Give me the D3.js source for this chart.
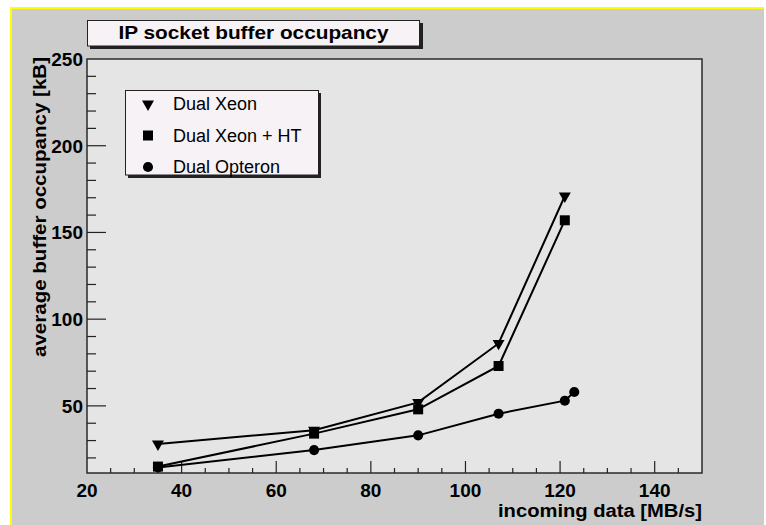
<!DOCTYPE html>
<html>
<head>
<meta charset="utf-8">
<script src="https://cdn.jsdelivr.net/npm/d3@7"></script>
<style>
  html, body { margin: 0; padding: 0; background: #ffffff; }
  svg { display: block; }
  text { font-family: "Liberation Sans", Arial, Helvetica, sans-serif; }
</style>
</head>
<body>
<svg id="chart" width="766" height="525"></svg>
<script>
// ---- data ----
const chartTitle = "IP socket buffer occupancy";
const xTitle = "incoming data [MB/s]";
const yTitle = "average buffer occupancy [kB]";
const seriesNames = ["Dual Xeon", "Dual Xeon + HT", "Dual Opteron"];
const xeonX = [35, 68, 90, 107, 121];
const xeonY = [28, 36, 52, 86, 171];
const xeonHtX = [35, 68, 90, 107, 121];
const xeonHtY = [15, 34, 48, 73, 157];
const opteronX = [35, 68, 90, 107, 121, 123];
const opteronY = [14.5, 24.5, 33, 45.5, 53, 58];
const xTickLabels = [20, 40, 60, 80, 100, 120, 140];
const yTickLabels = [50, 100, 150, 200, 250];

const svg = d3.select("#chart");

// canvas background with yellow edge
svg.append("rect").attr("x", 10).attr("y", 7).attr("width", 754).attr("height", 518).attr("fill", "#cccccc");
svg.append("line").attr("x1", 11).attr("x2", 11).attr("y1", 7).attr("y2", 525).attr("stroke", "#ffff00").attr("stroke-width", 2);
svg.append("line").attr("x1", 10).attr("x2", 764).attr("y1", 8).attr("y2", 8).attr("stroke", "#ffff00").attr("stroke-width", 2);

const x = d3.scaleLinear().domain([20, 150]).range([87, 702]);
const y = d3.scaleLinear().domain([11.3, 250]).range([473, 59]);

// frame
svg.append("rect").attr("x", 87).attr("y", 59).attr("width", 615).attr("height", 414)
  .attr("fill", "#e5e5e5").attr("stroke", "#2a2a2a").attr("stroke-width", 1.5);

// x axis ticks
const xMinor = d3.range(25, 150, 5);
const gx = svg.append("g");
gx.selectAll("line.minor").data(xMinor).enter().append("line")
  .attr("x1", d => x(d)).attr("x2", d => x(d))
  .attr("y1", 473).attr("y2", d => d % 20 === 0 ? 461 : 468)
  .attr("stroke", "#222").attr("stroke-width", 1.2);
gx.selectAll("text").data(xTickLabels).enter().append("text")
  .attr("x", d => x(d)).attr("y", 497)
  .attr("text-anchor", "middle").attr("font-size", 19).attr("font-weight", "bold")
  .attr("fill", "#000").text(d => d);

// y axis ticks
const yMinor = d3.range(20, 250, 10);
const gy = svg.append("g");
gy.selectAll("line").data(yMinor).enter().append("line")
  .attr("x1", 87).attr("x2", d => d % 50 === 0 ? 106 : 96)
  .attr("y1", d => y(d)).attr("y2", d => y(d))
  .attr("stroke", "#222").attr("stroke-width", 1.2);
gy.selectAll("text").data(yTickLabels).enter().append("text")
  .attr("x", 83).attr("y", d => y(d) + 7)
  .attr("text-anchor", "end").attr("font-size", 19).attr("font-weight", "bold")
  .attr("fill", "#000").text(d => d);

// axis titles
svg.append("text").attr("x", 702).attr("y", 517).attr("text-anchor", "end")
  .attr("font-size", 18).attr("font-weight", "bold")
  .attr("textLength", 204).attr("lengthAdjust", "spacingAndGlyphs").text(xTitle);
svg.append("text").attr("transform", "translate(46,57) rotate(-90)")
  .attr("text-anchor", "end").attr("font-size", 18).attr("font-weight", "bold")
  .attr("textLength", 300).attr("lengthAdjust", "spacingAndGlyphs").text(yTitle);

// series
const series = [
  {name: seriesNames[0], xs: xeonX, ys: xeonY, sym: d3.symbolTriangle, size: 62, rot: 180},
  {name: seriesNames[1], xs: xeonHtX, ys: xeonHtY, sym: d3.symbolSquare, size: 100, rot: 0},
  {name: seriesNames[2], xs: opteronX, ys: opteronY, sym: d3.symbolCircle, size: 80, rot: 0}
];
const line = d3.line().x(d => x(d[0])).y(d => y(d[1]));
series.forEach(s => {
  const pts = s.xs.map((v, i) => [v, s.ys[i]]);
  svg.append("path").attr("d", line(pts)).attr("fill", "none").attr("stroke", "#000").attr("stroke-width", 2);
});
series.forEach(s => {
  const pts = s.xs.map((v, i) => [v, s.ys[i]]);
  svg.append("g").selectAll("path").data(pts).enter().append("path")
    .attr("d", d3.symbol(s.sym, s.size))
    .attr("transform", d => `translate(${x(d[0])},${y(d[1])}) rotate(${s.rot})`)
    .attr("fill", "#000");
});

// title box
svg.append("rect").attr("x", 90).attr("y", 23).attr("width", 333).attr("height", 26).attr("fill", "#222");
svg.append("rect").attr("x", 87.5).attr("y", 20.5).attr("width", 332).attr("height", 25.5)
  .attr("fill", "#f6f2f6").attr("stroke", "#222").attr("stroke-width", 1);
svg.append("text").attr("x", 253.5).attr("y", 39).attr("text-anchor", "middle")
  .attr("font-size", 19).attr("font-weight", "bold")
  .attr("textLength", 270).attr("lengthAdjust", "spacingAndGlyphs").text(chartTitle);

// legend
svg.append("rect").attr("x", 128).attr("y", 93).attr("width", 193).attr("height", 85).attr("fill", "#222");
svg.append("rect").attr("x", 125.5).attr("y", 90.5).attr("width", 193).attr("height", 84.5)
  .attr("fill", "#f6f2f6").attr("stroke", "#222").attr("stroke-width", 1);
const legendRows = [104, 135.5, 167];
series.forEach((s, i) => {
  svg.append("path").attr("d", d3.symbol(s.sym, s.size))
    .attr("transform", `translate(148,${legendRows[i]}) rotate(${s.rot})`).attr("fill", "#000");
  svg.append("text").attr("x", 173).attr("y", legendRows[i] + 6)
    .attr("font-size", 18).attr("fill", "#000").text(s.name);
});
</script>
</body>
</html>
